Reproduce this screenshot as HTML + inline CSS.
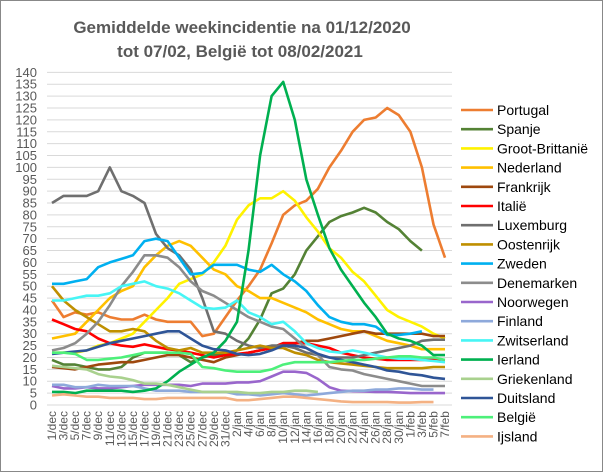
<!DOCTYPE html>
<html><head><meta charset="utf-8">
<style>
body{margin:0;background:#fff;}
svg{display:block;font-family:"Liberation Sans",sans-serif;}
</style></head>
<body>
<svg id="chart" width="603" height="472" viewBox="0 0 603 472" xmlns="http://www.w3.org/2000/svg">
<rect x="0.5" y="0.5" width="602" height="471" fill="#fff" stroke="#888" stroke-width="1"/>
<text x="242" y="33" text-anchor="middle" font-size="17" font-weight="bold" fill="#595959">Gemiddelde weekincidentie  na 01/12/2020</text>
<text x="240" y="57" text-anchor="middle" font-size="17" font-weight="bold" fill="#595959">tot 07/02, België tot 08/02/2021</text>
<g id="grid"></g><g id="yaxis"></g><g id="xaxis"></g><g id="series"></g><g id="legend"></g>
</svg>
<script>
const dateLabels=["1/dec","3/dec","5/dec","7/dec","9/dec","11/dec","13/dec","15/dec","17/dec","19/dec","21/dec","23/dec","25/dec","27/dec","29/dec","31/dec","2/jan","4/jan","6/jan","8/jan","10/jan","12/jan","14/jan","16/jan","18/jan","20/jan","22/jan","24/jan","26/jan","28/jan","30/jan","1/feb","3/feb","5/feb","7/feb"];
const yTicks=[0,5,10,15,20,25,30,35,40,45,50,55,60,65,70,75,80,85,90,95,100,105,110,115,120,125,130,135,140];
const countries=["Portugal","Spanje","Groot-Brittanië","Nederland","Frankrijk","Italië","Luxemburg","Oostenrijk","Zweden","Denemarken","Noorwegen","Finland","Zwitserland","Ierland","Griekenland","Duitsland","België","Ijsland"];
const portugal=[44,37,39,38,39,37,36,36,38,36,35,35,35,29,30,37,44,50,57,68,80,84,86,91,100,107,115,120,121,125,122,115,100,76,62];
const spanje=[19,17,17,16,15,15,16,20,22,22,22,21,18,20,21,21,23,28,36,47,49,55,65,71,77,79.5,81,83,81,77,74,69,65,null,null];
const grootBrittannie=[22,22,22,23,25,26,28,30,35,40,45,51,53,55,60,67,78,84,87,87,90,86,79,73,66,62,56,52,46,40,37,35,33,30,28];
const nederland=[28,29,30,35,40,45,48,50,58,63,67,69,67,62,57,55,50,48,45,45,43,41,39,36,34,32,31,31,29,27,26,25,23.5,23.5,23.5];
const frankrijk=[16,15.5,15,16,17,17.5,18,18,19,20,21,21,20,19,18,20,21,22,23,24,26,26,27,27,28,29,30,31,30,30,30,30,30,29,29];
const italie=[36,34,32,31,28,26,25,24.5,25.5,24.5,23.5,23,22,21,20,21,21.5,22,23,24,26,26,26,25,24,22,21,20,19.5,19,19,19,19,19,19];
const luxemburg=[85,88,88,88,90,100,90,88,85,72,66,63,57,45,31,30,27,25,24,25,25,24,22,21,20,20,20,21,22,23,24,25,27,27.5,27.5];
const oostenrijk=[50,44,40,37,34,31,31,32,31,27,24,23,24,22,22,22,23,24,25,24,24,22,21,19,18,17.5,17,16.5,16,15.5,15.5,15.5,15.5,16,16];
const zweden=[51,51,52,53,58,60,61.5,63,69,70,69,62,55,55.5,59,59,59,57,56,59,55,52,48,42,37,35,34,34,33,29.5,29.5,30,31,null,null];
const denemarken=[23,24,26,30,35,42,50,56,63,63,62,58,52,48,46,43,40,37,35,33,32,28,24,21,16,15,14.5,13,12,11,10,9,8,8,8];
const noorwegen=[8,7,7,7.5,7,7,7.5,8,8.5,8.5,8.5,8.5,8,9,9,9,9.5,9.5,10,12,14,14,13.5,11,7.5,6,5.8,5.7,5.5,5.5,5.3,5,5,5,5];
const finland=[8.5,8.5,7.5,7.5,8.5,8,8,8,7,6,6,6,5.5,5.5,5.5,5.5,4.5,4.5,4,4.5,5,4.5,4,4.5,5,5.5,6,6,6.5,6.5,7,7,6.5,6.5,null];
const zwitserland=[44,44,45,46,46,47,50,51,52,50,49,47,44,41,40.5,41,44,39,37,34,35,31,26,24,22.5,22,23,22,21,20,19.5,19.5,19,18.5,18];
const ierland=[5.5,5.5,5,6,6,6,6,5.5,6,7,10,14,17,20,22,27,35,65,105,130,136,120,95,80,66,57,50,43,37,30,28,27,25,21,21];
const griekenland=[16.5,16,15.5,15,13,12,11.5,10.5,9,9,8.5,7.5,6.5,5.5,5.5,5.5,5.5,5,5,5.5,5.5,6,6,5.5,null,null,null,null,null,null,null,null,null,null,null];
const duitsland=[21.5,22,22.5,23,24.5,26,27,28,29,30,31,31,28,25,23.5,23,21.5,21,21.5,23,25,25,24,21.5,20,19,18,17,16,14.5,14,13,12.5,11.5,11];
const belgie=[22,22,21.5,19,19,19.5,20,21,22,22,22,22,21.5,16,15.5,14.5,14,14,14,15,17,18,18,18,18,18.5,19,19,19.5,20,20.5,20.5,20,20,19];
const ijsland=[4,4.5,4,3.5,3.5,3,3,3,2.5,2.5,3,3,3,3,3,3,2,2,2.5,3,3.5,3.5,3,2.5,2,1.5,1.2,1.2,1.2,1.2,1,1,1.2,1.2,null];
const seriesData=[portugal,spanje,grootBrittannie,nederland,frankrijk,italie,luxemburg,oostenrijk,zweden,denemarken,noorwegen,finland,zwitserland,ierland,griekenland,duitsland,belgie,ijsland];
const colors=["#ED7D31","#548235","#FFF200","#FFC000","#9E480E","#FF0000","#6F6F6F","#BF8F00","#00B0F0","#8C8C8C","#9966CC","#8EA9DB","#47F5F5","#00B050","#A9D18E","#2F5597","#4DF07A","#F4B183"];
const NS="http://www.w3.org/2000/svg";
function xScale(i){return 52+i*11.56;}
function yScale(v){return 405-v*2.376;}
function mk(tag,attrs,parent){const e=document.createElementNS(NS,tag);for(const k in attrs)e.setAttribute(k,attrs[k]);parent.appendChild(e);return e;}
const grid=document.getElementById('grid'),yax=document.getElementById('yaxis'),xax=document.getElementById('xaxis'),ser=document.getElementById('series'),leg=document.getElementById('legend');
yTicks.forEach(t=>{
  const l=mk('line',{x1:47,x2:452,y1:yScale(t),y2:yScale(t),stroke:'#d9d9d9','stroke-width':1},grid);
  
  
  const tx=mk('text',{x:37,y:yScale(t)+4.5,'text-anchor':'end','font-size':13,fill:'#595959'},yax);
  tx.textContent=t;
  
  
});
dateLabels.forEach((d,k)=>{
  const x=xScale(k)+4,y=411;
  const tx=mk('text',{x:x,y:y,'text-anchor':'end','font-size':12,fill:'#595959',transform:'rotate(-90 '+x+' '+y+')'},xax);
  tx.textContent=d;
  
  
});
seriesData.forEach((arr,s)=>{
  let d='';let pen=false;
  arr.forEach((v,k)=>{if(v===null){pen=false;return;}d+=(pen?'L':'M')+xScale(k).toFixed(1)+' '+yScale(v).toFixed(1)+' ';pen=true;});
  const p=mk('path',{d:d,fill:'none',stroke:colors[s],'stroke-width':2.6,'stroke-linejoin':'round'},ser);
  
  
});
countries.forEach((c,s)=>{
  const y=110+s*19.2;
  const g=mk('g',{},leg);
  
  
  mk('line',{x1:461,x2:493,y1:y,y2:y,stroke:colors[s],'stroke-width':2.6},g);
  const t=mk('text',{x:497,y:y+5,'font-size':14,fill:'#000'},g);
  t.textContent=c;
});
</script>
</body></html>
